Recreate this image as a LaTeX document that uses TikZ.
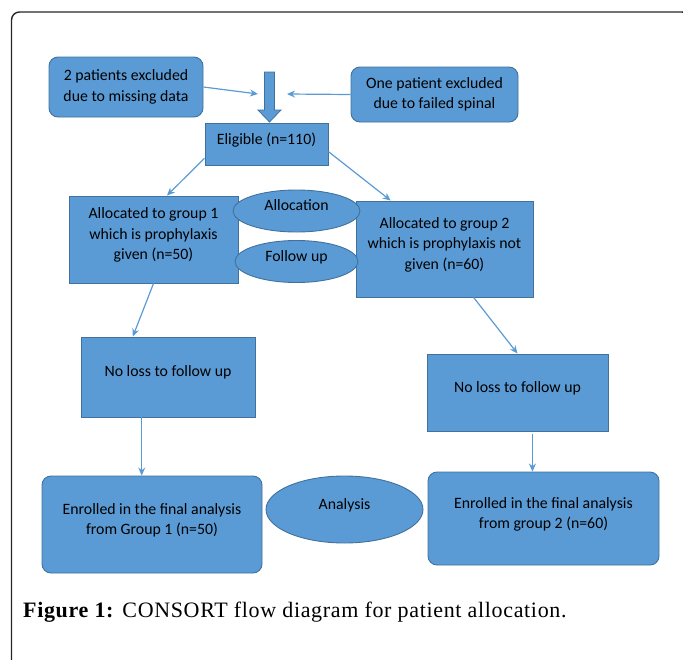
\documentclass[tikz,border=0pt]{standalone}
\usepackage{fontspec}
\setmainfont{Carlito}
\newfontfamily\capfont[LetterSpace=3]{Liberation Serif}
\usetikzlibrary{arrows.meta,shapes.geometric}

\definecolor{boxblue}{HTML}{5B9BD5}
\definecolor{edgeblue}{HTML}{41719C}

\tikzset{
    base/.style={draw=edgeblue, fill=boxblue, line width=0.9pt,
        align=center, inner sep=0pt, text depth=11pt,
        font=\fontsize{15.8}{20.5}\selectfont},
    flatbox/.style={base, rectangle},
    roundbox/.style={base, rectangle, rounded corners=9pt},
    oval/.style={base, ellipse},
    link/.style={draw=boxblue, line width=1.2pt,
        -{Stealth[length=8pt,width=7pt]}},
}

\begin{document}
\begin{tikzpicture}[x=1pt, y=-1pt]
    \useasboundingbox (0,0) rectangle (683,659);
    \clip (0,0) rectangle (683,659);

    % Frame
    \draw[line width=1.4pt, rounded corners=8pt, black!85]
        (11.5,12) rectangle (690,720);

    % Exclusions
    \node[roundbox, text depth=, minimum width=154pt, minimum height=60pt]
        (excla) at (126,87) {2 patients excluded\\due to missing data};
    \node[roundbox, text depth=, minimum width=167pt, minimum height=55pt]
        (exclb) at (434.5,94.5) {One patient excluded\\due to failed spinal};
    \coordinate (ina) at (258,94);
    \coordinate (inb) at (287,94);

    % Block arrow into eligible
    \draw[draw=edgeblue, fill=boxblue, line width=0.8pt]
        (264.5,72) -- (274.5,72) -- (274.5,110) -- (281,110)
        -- (269.5,122) -- (258,110) -- (264.5,110) -- cycle;

    % Eligible
    \node[flatbox, minimum width=123pt, minimum height=42pt]
        (elig) at (266.5,144) {Eligible (n=110)};

    % Allocation
    \node[flatbox, minimum width=169pt, minimum height=87pt]
        (grpa) at (153.5,239.5)
        {Allocated to group 1\\which is prophylaxis\\given (n=50)};
    \node[flatbox, minimum width=177pt, minimum height=96pt]
        (grpb) at (444.5,249)
        {Allocated to group 2\\which is prophylaxis not\\given (n=60)};
    \node[oval, minimum width=127pt, minimum height=42pt]
        (alloc) at (296.5,211) {Allocation};
    \node[oval, minimum width=123pt, minimum height=42pt]
        (follow) at (296.5,261.5) {Follow up};

    % Follow up
    \node[flatbox, minimum width=174pt, minimum height=80pt]
        (lossa) at (168,377) {No loss to follow up};
    \node[flatbox, minimum width=181pt, minimum height=77pt]
        (lossb) at (517.5,392.5) {No loss to follow up};

    % Analysis
    \node[roundbox, minimum width=220pt, minimum height=97pt]
        (finala) at (152,524.5)
        {Enrolled in the final analysis\\from Group 1 (n=50)};
    \node[roundbox, minimum width=231pt, minimum height=93pt]
        (finalb) at (543.5,518.5)
        {Enrolled in the final analysis\\from group 2 (n=60)};
    \node[oval, minimum width=157pt, minimum height=67pt]
        (anal) at (344.5,509.5) {Analysis};

    % Connectors
    \draw[link] (excla.east) -- (ina);
    \draw[link] (exclb.west) -- (inb);
    \draw[link] (elig.193) -- (grpa.73);
    \draw[link] (elig.353) -- (grpb.138);
    \draw[link] (grpa.south) -- (lossa.131);
    \draw[link] (grpb.-59) -- (lossb.north);
    \draw[link] (lossa.237) -- (lossa.237 |- finala.north);
    \draw[link, shorten <=3pt] (lossb.-69) -- (lossb.-69 |- finalb.north);

    % Caption
    \node[anchor=base west, inner sep=0pt,
        font=\capfont\fontsize{22}{26}\selectfont]
        (cap) at (23,617)
        {\textbf{Figure 1:} CONSORT flow diagram for patient allocation.};
\end{tikzpicture}
\end{document}
